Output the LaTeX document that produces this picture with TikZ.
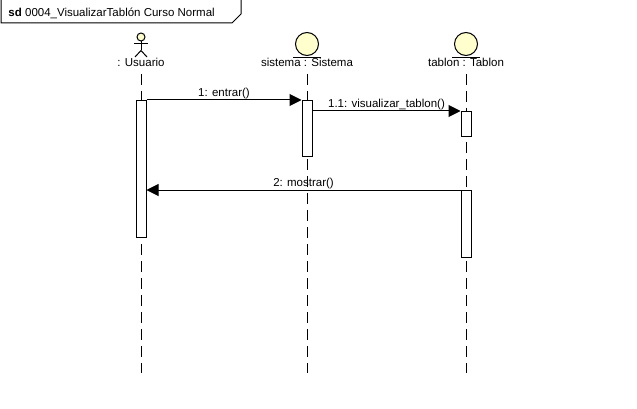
\documentclass[tikz,border=0pt]{standalone}
\usepackage{fontspec}
\setmainfont{Liberation Sans}
\usepackage{xcolor}
\usetikzlibrary{arrows.meta, positioning, calc}

\definecolor{lifefill}{RGB}{255,255,206}

\begin{document}
\begin{tikzpicture}[
    x=1pt, y=-1pt,
    line width=1pt,
    font=\fontsize{11.5}{13}\selectfont,
    lbl/.style={anchor=base, inner sep=0pt},
    entity/.style={circle, draw, fill=lifefill, minimum size=23pt, inner sep=0pt},
    lifeline/.style={dash pattern=on 11pt off 6pt},
    actbar/.style={rectangle, draw, fill=white, minimum width=10pt, inner sep=0pt, anchor=north},
    msg/.style={-{Triangle[length=12pt, width=12pt]}},
    msglbl/.style={above, inner sep=0.5pt}
]
\useasboundingbox (0,0) rectangle (637,409);

% Frame tab
\node[anchor=base west, inner sep=0pt] (title) at (8,17) {\textbf{sd} 0004\_VisualizarTablón Curso Normal};
\draw (1,0) -- (1,23) -- (232,23) -- (241,14) -- (241,0);

% Lifeline heads
\node[circle, draw, fill=lifefill, minimum size=8pt, inner sep=0pt] (usrhead) at (141,37) {};
\draw (usrhead.south) -- ++(0,9) coordinate (usrhip);
\draw (134,44) -- (148,44);
\draw (135,57) -- (usrhip) -- (147,57);
\node[entity] (syshead) at (307,44) {};
\draw ([xshift=-14pt, yshift=-1.5pt]syshead.south) -- ([xshift=14pt, yshift=-1.5pt]syshead.south);
\node[entity] (tabhead) at (466,44) {};
\draw ([xshift=-14pt, yshift=-1.5pt]tabhead.south) -- ([xshift=14pt, yshift=-1.5pt]tabhead.south);

% Labels
\node[lbl] (usrlbl) at (141,67) {: Usuario};
\node[lbl] (syslbl) at (307,67) {sistema : Sistema};
\node[lbl] (tablbl) at (466,67) {tablon : Tablon};

% Lifelines
\coordinate (usrend) at (141,373);
\coordinate (sysend) at (307,373);
\coordinate (tabend) at (466,373);
\draw[lifeline] (141,74) -- (usrend);
\draw[lifeline] (307,74) -- (sysend);
\draw[lifeline] (466,74) -- (tabend);

% Activations
\node[actbar, minimum height=137pt] (usrbar) at (141,100) {};
\node[actbar, minimum height=56pt] (sysbar) at (307,100) {};
\node[actbar, minimum height=25pt] (tabbar1) at (466,111) {};
\node[actbar, minimum height=67pt] (tabbar2) at (466,190) {};

% Messages
\draw[msg] (usrbar.north east) -- node[msglbl] {1: entrar()} (sysbar.north west);
\draw[msg] (sysbar.east |- tabbar1.north) -- node[msglbl] {1.1: visualizar\_tablon()} (tabbar1.north west);
\draw[msg] (tabbar2.north west) -- node[msglbl] {2: mostrar()} (tabbar2.north west -| usrbar.east);

\end{tikzpicture}
\end{document}
